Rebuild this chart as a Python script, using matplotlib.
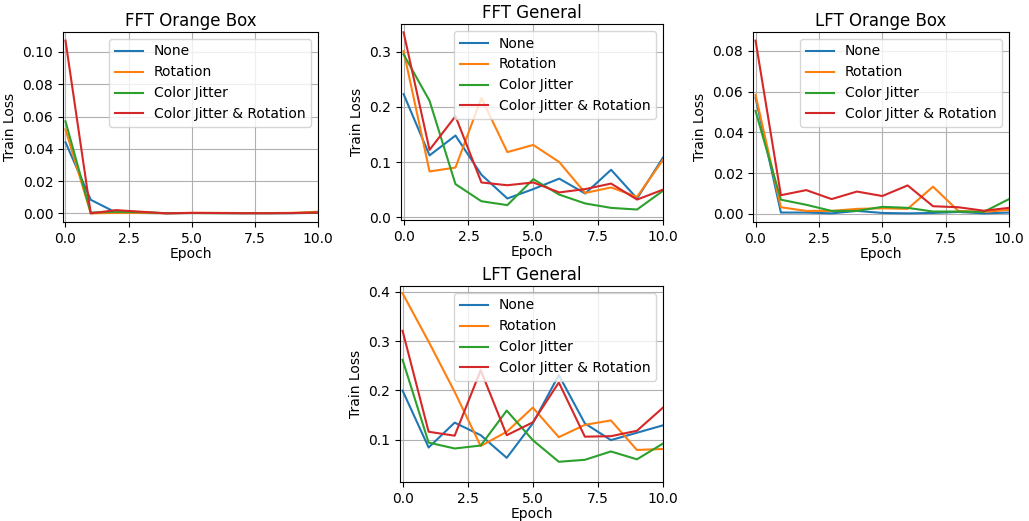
import matplotlib
matplotlib.use("Agg")
import matplotlib.pyplot as plt
import numpy as np

epochs = np.arange(11)
labels = ["None", "Rotation", "Color Jitter", "Color Jitter & Rotation"]
xtick_vals = [0.0, 2.5, 5.0, 7.5, 10.0]

# FFT Orange Box
fft_box_none = [0.044, 0.0084, 0.0005, 0.0002, 0.0001, 0.0002, 0.0002, 0.0001, 0.0001, 0.0001, 0.0003]
fft_box_rot = [0.052, 0.0, 0.0003, 0.0003, 0.0001, 0.0003, 0.0003, 0.0002, 0.0002, 0.0003, 0.001]
fft_box_cj = [0.057, 0.0005, 0.001, 0.0008, 0.0001, 0.0002, 0.0001, 0.0001, 0.0001, 0.0002, 0.0004]
fft_box_cjr = [0.107, 0.0, 0.002, 0.001, 0.0, 0.0003, 0.0002, 0.0001, 0.0001, 0.0002, 0.0005]

# FFT General
fft_gen_none = [0.223, 0.112, 0.148, 0.077, 0.034, 0.051, 0.070, 0.043, 0.086, 0.034, 0.108]
fft_gen_rot = [0.301, 0.083, 0.090, 0.216, 0.118, 0.131, 0.100, 0.044, 0.054, 0.037, 0.104]
fft_gen_cj = [0.295, 0.211, 0.060, 0.029, 0.022, 0.069, 0.041, 0.025, 0.017, 0.014, 0.048]
fft_gen_cjr = [0.335, 0.122, 0.183, 0.063, 0.058, 0.063, 0.045, 0.051, 0.061, 0.032, 0.050]

# LFT Orange Box
lft_box_none = [0.057, 0.0007, 0.0007, 0.0003, 0.0015, 0.0005, 0.0003, 0.0005, 0.001, 0.0003, 0.0007]
lft_box_rot = [0.0584, 0.0033, 0.0015, 0.0015, 0.0025, 0.0028, 0.0025, 0.0134, 0.0015, 0.001, 0.002]
lft_box_cj = [0.0505, 0.007, 0.0045, 0.0015, 0.0015, 0.0035, 0.003, 0.0012, 0.0012, 0.001, 0.0073]
lft_box_cjr = [0.085, 0.0092, 0.0117, 0.0073, 0.011, 0.0088, 0.014, 0.0038, 0.0033, 0.0016, 0.003]

# LFT General
lft_gen_none = [0.1995, 0.084, 0.1345, 0.109, 0.063, 0.133, 0.231, 0.133, 0.099, 0.114, 0.129]
lft_gen_rot = [0.397, 0.299, 0.197, 0.087, 0.116, 0.165, 0.105, 0.130, 0.139, 0.079, 0.081]
lft_gen_cj = [0.262, 0.094, 0.082, 0.088, 0.159, 0.099, 0.055, 0.059, 0.076, 0.060, 0.092]
lft_gen_cjr = [0.321, 0.116, 0.108, 0.241, 0.109, 0.135, 0.216, 0.106, 0.107, 0.118, 0.165]

plt.rcParams['font.size'] = 10

fig = plt.figure(figsize=(10.29, 5.21), dpi=100)

panels = [
    ("FFT Orange Box", [fft_box_none, fft_box_rot, fft_box_cj, fft_box_cjr], [0.0612, 0.5739, 0.2478, 0.3647], None),
    ("FFT General", [fft_gen_none, fft_gen_rot, fft_gen_cj, fft_gen_cjr], [0.3897, 0.5777, 0.2546, 0.3762], (-0.005, 0.35)),
    ("LFT Orange Box", [lft_box_none, lft_box_rot, lft_box_cj, lft_box_cjr], [0.7318, 0.5739, 0.2488, 0.3647], None),
    ("LFT General", [lft_gen_none, lft_gen_rot, lft_gen_cj, lft_gen_cjr], [0.3887, 0.0749, 0.2556, 0.3762], (0.014, 0.412)),
]

for title, series, rect, ylim in panels:
    ax = fig.add_axes(rect)
    for s, lab in zip(series, labels):
        ax.plot(epochs, s, label=lab)
    ax.set_xlim(-0.1, 10)
    ax.set_xticks(xtick_vals)
    if ylim is not None:
        ax.set_ylim(*ylim)
    ax.set_title(title, fontsize=12, pad=4)
    ax.set_xlabel("Epoch", labelpad=1)
    ax.set_ylabel("Train Loss")
    ax.grid(True)
    ax.legend(loc="upper right")

fig.savefig("out.png", dpi=100)
